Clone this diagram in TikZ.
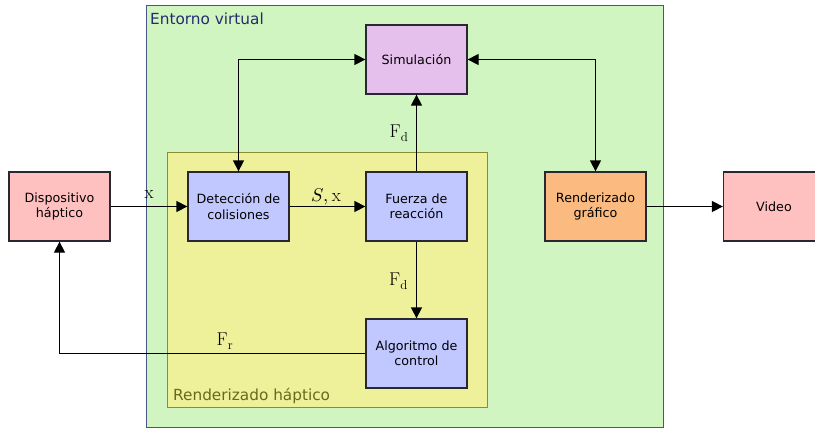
\documentclass[tikz,border=0pt]{standalone}
\usepackage{fontspec}
\setmainfont{DejaVu Sans}
\usepackage{unicode-math}
\setmathfont{Latin Modern Math}
\setmathrm{Latin Modern Roman}
\usetikzlibrary{arrows.meta,positioning}
\definecolor{envfill}{RGB}{208,245,192}
\definecolor{envdraw}{RGB}{70,85,140}
\definecolor{envtext}{RGB}{35,45,110}
\definecolor{hapfill}{RGB}{238,241,154}
\definecolor{hapdraw}{RGB}{140,140,50}
\definecolor{haptext}{RGB}{105,105,30}
\definecolor{pinkfill}{RGB}{255,192,192}
\definecolor{bluefill}{RGB}{192,200,255}
\definecolor{purplefill}{RGB}{230,192,236}
\definecolor{orangefill}{RGB}{251,186,128}
\definecolor{boxdraw}{RGB}{40,40,50}
\tikzset{
  blockbox/.style={draw=boxdraw, line width=1.3pt, minimum width=101pt, minimum height=69pt,
    align=center, inner sep=0pt, font=\fontsize{12.7}{15.3}\selectfont},
  conn/.style={line width=1.3pt, -{Triangle[length=11pt,width=11pt]}},
  biconn/.style={line width=1.3pt, {Triangle[length=11pt,width=11pt]}-{Triangle[length=11pt,width=11pt]}},
  mathlbl/.style={font=\fontsize{18.5}{20}\selectfont, inner sep=0pt, anchor=base},
  grouplbl/.style={font=\fontsize{15.3}{18}\selectfont, inner sep=0pt, anchor=base west}
}
\begin{document}
\begin{tikzpicture}[x=1pt,y=-1pt]
\useasboundingbox (0,0) rectangle (815,428);
% group frames
\draw[fill=envfill, draw=envdraw, line width=1pt] (146,6) rectangle (663,427);
\node[grouplbl, text=envtext] (envlbl) at (150,25) {Entorno virtual};
\draw[fill=hapfill, draw=hapdraw, line width=1pt] (167.5,152) rectangle (487,407);
\node[grouplbl, text=haptext] (haplbl) at (173,400) {Renderizado háptico};
% blocks
\node[blockbox, fill=pinkfill] (disp) at (59.5,206.5) {Dispositivo\\háptico};
\node[blockbox, fill=bluefill] (det) at (238.5,206.5) {Detección de\\colisiones};
\node[blockbox, fill=bluefill] (fue) at (416.5,206.5) {Fuerza de\\reacción};
\node[blockbox, fill=purplefill] (sim) at (416.5,59.5) {Simulación};
\node[blockbox, fill=bluefill] (alg) at (416.5,353.5) {Algoritmo de\\control};
\node[blockbox, fill=orangefill] (ren) at (595.5,206.5) {Renderizado\\gráfico};
\node[blockbox, fill=pinkfill] (vid) at (774,206.5) {Video};
% connectors
\draw[conn] (disp) -- (det);
\draw[conn] (det) -- (fue);
\draw[conn] (fue) -- (sim);
\draw[conn] (fue) -- (alg);
\draw[conn] (alg.west) -| (disp.south);
\draw[biconn] (sim.west) -| (det.north);
\draw[biconn] (sim.east) -| (ren.north);
\draw[conn] (ren) -- (vid);
% labels
\node[mathlbl] (lx) at (149,198) {$\mathrm{x}$};
\node[mathlbl] (lsx) at (326,201) {$S,\mathrm{x}$};
\node[mathlbl] (lfd1) at (399,137) {$\mathrm{F}_{\mathrm{d}}$};
\node[mathlbl] (lfd2) at (398.5,285) {$\mathrm{F}_{\mathrm{d}}$};
\node[mathlbl] (lfr) at (225,345) {$\mathrm{F}_{\mathrm{r}}$};
\end{tikzpicture}
\end{document}
